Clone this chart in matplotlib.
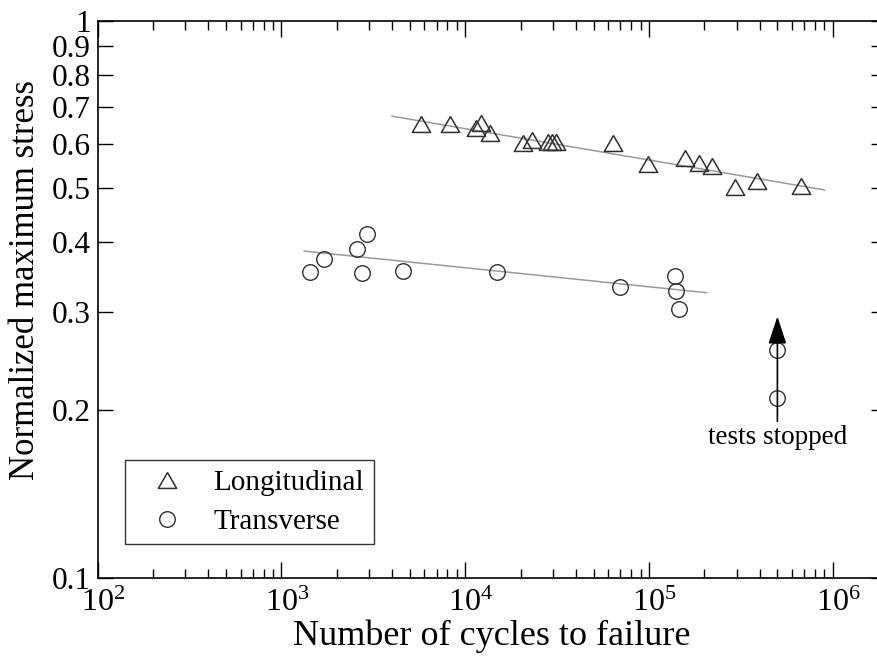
import numpy as np
import matplotlib
matplotlib.use("Agg")
import matplotlib.pyplot as plt
from matplotlib.ticker import FixedLocator, LogLocator, NullFormatter
from matplotlib.transforms import ScaledTranslation

plt.rcParams['font.family'] = ['Liberation Serif', 'DejaVu Serif']
plt.rcParams['mathtext.fontset'] = 'custom'
plt.rcParams['mathtext.rm'] = 'Liberation Serif'
plt.rcParams['mathtext.it'] = 'Liberation Serif:italic'

# longitudinal specimens (cycles, normalized max stress)
long_cycles = [5760, 8270, 11450, 12230, 13650, 20720, 23010, 28220, 29680, 31210,
               63970, 99200, 157100, 187900, 219500, 293900, 385800, 669800]
long_stress = [0.653, 0.653, 0.641, 0.654, 0.628, 0.603, 0.612, 0.605, 0.605, 0.605,
               0.604, 0.553, 0.566, 0.555, 0.549, 0.504, 0.515, 0.506]

# transverse specimens
trans_cycles = [1430, 1711, 2587, 2933, 2754, 4604, 14950, 69560, 138600, 140400, 145700]
trans_stress = [0.354, 0.373, 0.389, 0.414, 0.353, 0.356, 0.354, 0.333, 0.348, 0.328, 0.304]

# run-outs (tests stopped)
runout_cycles = [5.0e5, 5.0e5]
runout_stress = [0.257, 0.210]

# fitted lines
fit_long_x = [4.0e3, 9.0e5]
fit_long_y = [0.674, 0.497]
fit_trans_x = [1.33e3, 2.06e5]
fit_trans_y = [0.386, 0.325]

y_ticks = [0.1, 0.2, 0.3, 0.4, 0.5, 0.6, 0.7, 0.8, 0.9, 1.0]
y_ticklabels = ['0.1', '0.2', '0.3', '0.4', '0.5', '0.6', '0.7', '0.8', '0.9', '1']
x_ticks = [1e2, 1e3, 1e4, 1e5, 1e6]
x_ticklabels = [r'$10^{2}$', r'$10^{3}$', r'$10^{4}$', r'$10^{5}$', r'$10^{6}$']

fig = plt.figure(figsize=(8.78, 6.59), dpi=100)
W, H = 878, 659
ax = fig.add_axes([97.7 / W, 1 - 578 / H, (886 - 97.7) / W, (578 - 20.7) / H])
ax.set_xscale('log')
ax.set_yscale('log')
ax.set_xlim(1e2, 1.95e6)
ax.set_ylim(0.1, 1.0)

ax.plot(fit_long_x, fit_long_y, color='#9a9a9a', lw=1.1, zorder=2)
ax.plot(fit_trans_x, fit_trans_y, color='#9a9a9a', lw=1.1, zorder=2)

tri = [(0, 0.433), (-0.5, -0.433), (0.5, -0.433), (0, 0.433)]
ax.plot(long_cycles, long_stress, ls='none', marker=tri, ms=13.2, mfc='none',
        mec='#303030', mew=1.1, label='Longitudinal', zorder=3)
ax.plot(trans_cycles, trans_stress, ls='none', marker='o', ms=11.2, mfc='none',
        mec='#303030', mew=1.0, label='Transverse', zorder=3)
ax.plot(runout_cycles, runout_stress, ls='none', marker='o', ms=11.2, mfc='none',
        mec='#303030', mew=1.0, zorder=3)

ax.annotate('', xy=(5.0e5, 0.2947), xytext=(5.0e5, 0.191),
            arrowprops=dict(arrowstyle='-|>,head_length=0.85,head_width=0.28',
                            color='black', lw=1.2, mutation_scale=20,
                            shrinkA=0, shrinkB=0))
ax.text(5.0e5, 0.1786, 'tests stopped', ha='center', va='center', fontsize=19.5)

ax.yaxis.set_major_locator(FixedLocator(y_ticks))
ax.yaxis.set_minor_locator(FixedLocator([]))
ax.set_yticklabels(y_ticklabels)
ax.xaxis.set_major_locator(FixedLocator(x_ticks))
ax.xaxis.set_minor_locator(LogLocator(base=10, subs=np.arange(2, 10)))
ax.xaxis.set_minor_formatter(NullFormatter())
ax.set_xticklabels(x_ticklabels)

ax.tick_params(which='both', direction='in', top=True, right=True, width=1.0)
ax.tick_params(axis='x', which='major', length=11.5, labelsize=23, pad=8)
ax.tick_params(axis='x', which='minor', length=6.5)
ax.tick_params(axis='y', which='major', length=11, labelsize=22.5, pad=5)
for lab in ax.get_xticklabels():
    lab.set_transform(lab.get_transform() + ScaledTranslation(4 / 72, 0, fig.dpi_scale_trans))

for sp in ax.spines.values():
    sp.set_linewidth(1.2)

ax.set_xlabel('Number of cycles to failure', fontsize=26, labelpad=1)
ax.set_ylabel('Normalized maximum stress', fontsize=25)
ax.yaxis.set_label_coords(-0.071, 0.535)

leg = ax.legend(loc='upper left', bbox_to_anchor=(0.0346, 0.2117), borderaxespad=0,
                fontsize=21, frameon=True, fancybox=False, edgecolor='black',
                handlelength=2.2, handletextpad=0.5, borderpad=0.33, labelspacing=0.42)
leg.get_frame().set_linewidth(1.0)

fig.savefig('out.png', dpi=100)
